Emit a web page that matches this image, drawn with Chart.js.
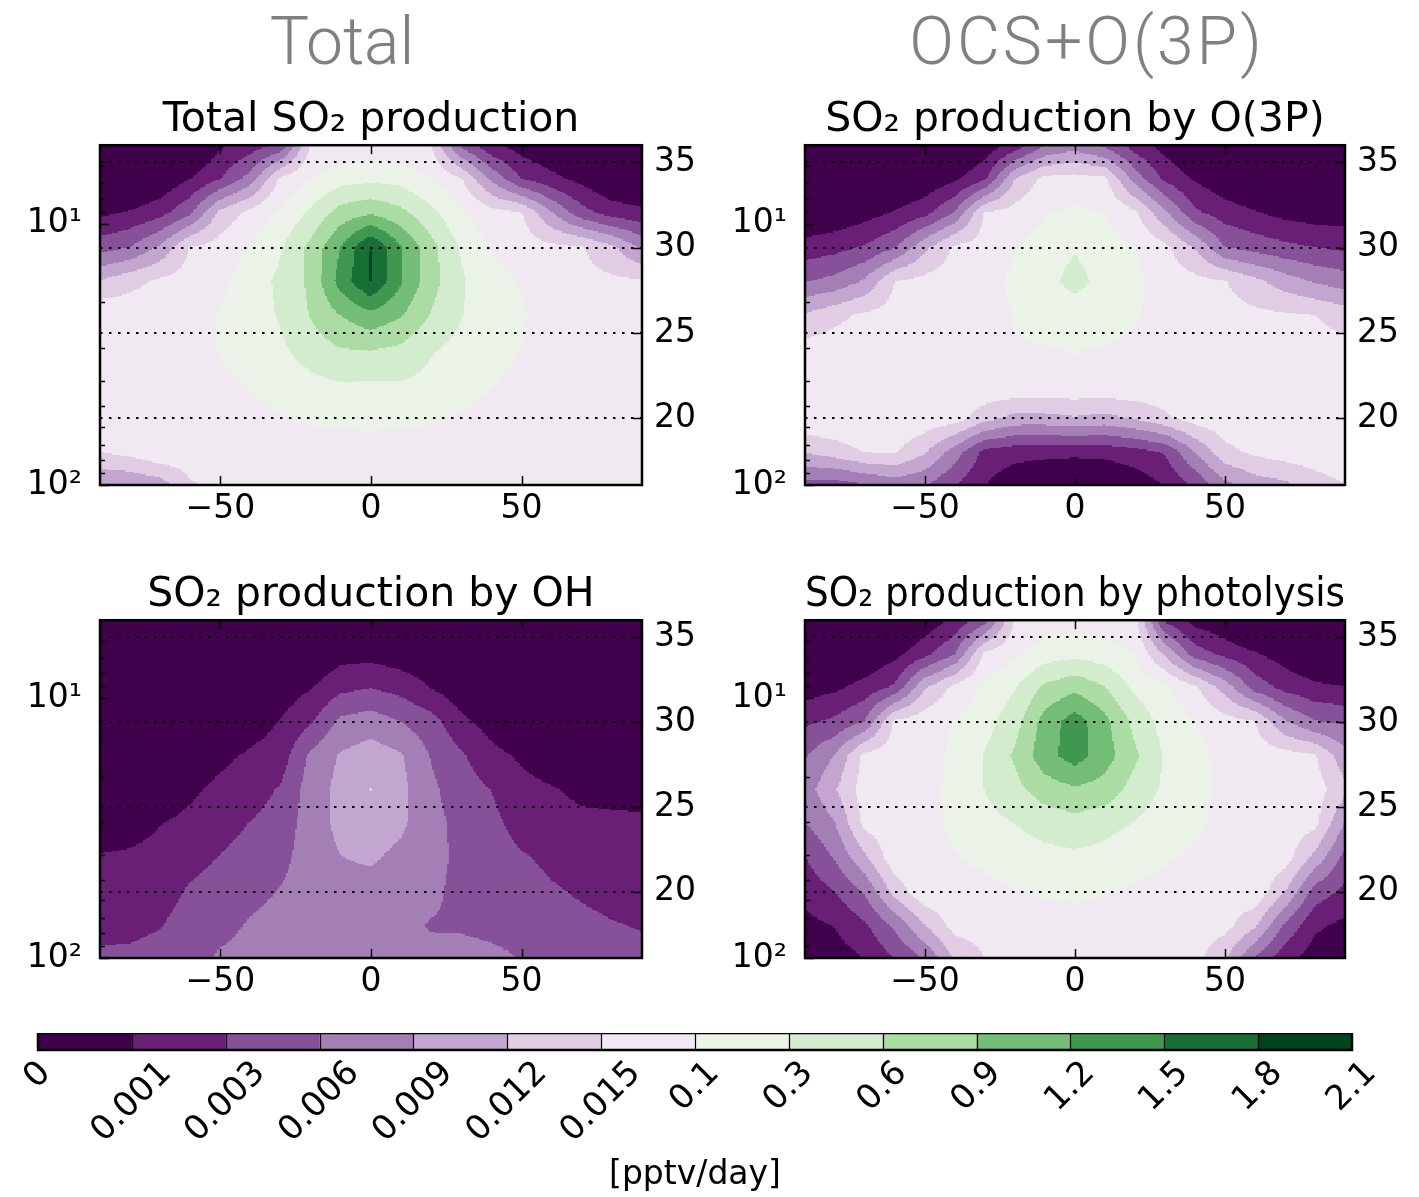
<!DOCTYPE html>
<html>
<head>
<meta charset="utf-8">
<script src="https://cdn.jsdelivr.net/npm/chart.js@4.4.1/dist/chart.umd.min.js"></script>
<style>
  html, body { margin: 0; padding: 0; background: #fff; }
  body { width: 1419px; height: 1197px; position: relative; overflow: hidden; }
  canvas { position: absolute; }
  .head { position: absolute; width: 600px; text-align: center; font-family: 'Roboto', 'Lato', sans-serif;
          font-weight: 300; font-size: 66px; line-height: 66px; color: #808080; }
</style>
</head>
<body>
<div class="head" style="left:42px; top:9px;">Total</div>
<div class="head" style="left:787px; top:9px; letter-spacing:3px;">OCS+O(3P)</div>
<canvas id="p1" width="712" height="449" style="left:0px; top:91px;"></canvas>
<canvas id="p2" width="710" height="449" style="left:705px; top:91px;"></canvas>
<canvas id="p3" width="712" height="447" style="left:0px; top:566px;"></canvas>
<canvas id="p4" width="710" height="447" style="left:705px; top:566px;"></canvas>
<canvas id="cbar" width="1419" height="164" style="left:0px; top:1033px;"></canvas>
<script>
// --- Axes / levels ---
const latitudes = [-90, -80, -70, -60, -50, -40, -30, -20, -10, 0, 10, 20, 30, 40, 50, 60, 70, 80, 90];
const altitudesKm = [36, 34, 32, 30, 28, 26, 24, 22, 20, 18, 16];   // grid rows, top to bottom
const latTicks = [-50, 0, 50];
const altTicks = [20, 25, 30, 35];
const pressureTicks = [6, 7, 8, 9, 10, 20, 30, 40, 50, 60, 70, 80, 90, 100];
const levelLabels = ['0', '0.001', '0.003', '0.006', '0.009', '0.012', '0.015', '0.1', '0.3', '0.6', '0.9', '1.2', '1.5', '1.8', '2.1'];
const bandColors = ['#40004b', '#6a1f76', '#87519a', '#a47fb5', '#c3a6d0', '#e0cce3', '#f0e9f1',
                    '#ebf3e9', '#d3ecce', '#aadca4', '#74bd77', '#3f9750', '#186f35', '#00441f'];

// field values, as position in the band scale (integer part = band)
const totalGrid = [
  [-1.5, -1.2, -0.9, -0.5, 0.82, 1.43, 2.17, 6.0, 6.2, 6.3, 6.2, 6.05, 2.75, 1.2, 0.5, 0.0, -0.4, -0.8, -1.0],
  [-0.6, -0.45, 0.1, 1.0, 1.95, 3.44, 6.2, 6.95, 7.6, 7.77, 7.65, 7.0, 6.1, 3.87, 2.0, 1.3, 0.7, -0.05, -0.4],
  [0.8, 1.1, 1.65, 2.82, 5.28, 6.35, 7.16, 8.18, 9.43, 9.87, 9.28, 8.3, 7.16, 6.38, 6.1, 4.1, 2.4, 1.6, 1.3],
  [2.55, 3.0, 4.17, 6.05, 6.39, 7.05, 7.9, 9.25, 11.0, 13.05, 11.1, 9.35, 7.9, 6.95, 6.5, 6.25, 6.1, 5.25, 3.85],
  [5.1, 5.7, 6.2, 6.4, 6.8, 7.5, 8.2, 9.2, 11.4, 13.05, 11.1, 9.4, 8.15, 7.3, 6.95, 6.5, 6.3, 6.2, 6.15],
  [6.8, 6.6, 6.55, 6.6, 7.05, 7.5, 8.1, 9.05, 10.0, 10.7, 10.1, 8.95, 8.05, 7.4, 7.1, 6.6, 6.5, 6.45, 6.4],
  [6.5, 6.5, 6.55, 6.7, 7.05, 7.4, 7.8, 8.5, 8.95, 9.03, 8.8, 8.1, 7.7, 7.4, 7.0, 6.6, 6.5, 6.45, 6.4],
  [6.5, 6.5, 6.55, 6.6, 6.8, 7.05, 7.4, 7.7, 7.95, 7.93, 7.95, 7.7, 7.4, 7.05, 6.7, 6.6, 6.5, 6.5, 6.45],
  [6.4, 6.45, 6.5, 6.55, 6.6, 6.75, 6.95, 7.1, 7.2, 7.24, 7.2, 7.1, 6.9, 6.7, 6.6, 6.55, 6.5, 6.5, 6.45],
  [6.0, 6.3, 6.8, 6.6, 6.5, 6.5, 6.55, 6.6, 6.6, 6.6, 6.6, 6.6, 6.55, 6.5, 6.5, 6.5, 6.5, 6.45, 6.45],
  [4.0, 4.0, 4.4, 5.85, 6.2, 6.4, 6.4, 6.4, 6.4, 6.4, 6.4, 6.4, 6.4, 6.4, 6.4, 6.4, 6.4, 6.4, 6.4]
];
const o3pGrid = [
  [-2, -2, -1.8, -1.4, -1.0, -0.4, 0.3, 1.3, 2.9, 3.5, 2.7, 1.5, 0.6, -0.2, -0.8, -1.2, -1.6, -1.8, -2],
  [-1.2, -1.1, -0.8, -0.4, 0.2, 0.8, 1.85, 5.0, 6.3, 6.4, 6.2, 3.6, 1.8, 0.9, 0.2, -0.3, -0.6, -0.8, -0.9],
  [0.0, 0.2, 0.6, 1.1, 1.7, 3.1, 6.1, 6.4, 6.95, 7.15, 7.0, 6.2, 4.25, 2.2, 1.55, 1.1, 0.7, 0.5, 0.45],
  [1.4, 1.65, 2.1, 2.9, 4.75, 6.2, 6.4, 6.95, 7.4, 7.9, 7.4, 7.0, 6.25, 4.95, 3.0, 2.6, 2.25, 2.0, 1.8],
  [2.95, 3.3, 4.15, 6.0, 6.3, 6.5, 6.6, 7.2, 7.6, 8.4, 7.6, 7.2, 6.6, 6.3, 6.05, 5.3, 4.5, 3.9, 3.5],
  [5.15, 5.75, 6.2, 6.4, 6.5, 6.55, 6.6, 7.05, 7.4, 7.3, 7.4, 7.1, 6.6, 6.5, 6.4, 6.25, 6.15, 6.02, 5.6],
  [6.4, 6.5, 6.5, 6.5, 6.5, 6.55, 6.6, 6.9, 6.95, 7.02, 6.95, 6.8, 6.6, 6.5, 6.5, 6.5, 6.45, 6.4, 6.3],
  [6.5, 6.5, 6.5, 6.5, 6.6, 6.7, 6.95, 6.9, 6.9, 6.9, 6.9, 6.9, 6.8, 6.6, 6.5, 6.5, 6.5, 6.5, 6.5],
  [6.9, 6.9, 6.9, 6.9, 6.7, 6.5, 5.4, 4.7, 4.7, 4.9, 4.7, 5.1, 5.8, 6.5, 6.7, 6.8, 6.8, 6.8, 6.8],
  [5.05, 5.5, 6.05, 6.1, 5.1, 3.5, 1.7, 1.4, 1.35, 1.3, 1.35, 1.6, 2.1, 4.0, 5.7, 6.2, 6.5, 6.6, 6.7],
  [2.5, 2.4, 2.8, 3.3, 3.0, 2.0, 1.0, 0.2, -0.3, -0.5, -0.3, 0.3, 1.0, 2.1, 3.6, 4.4, 4.7, 5.5, 5.95]
];
const ohGrid = [
  [-2, -2, -1.8, -1.6, -1.4, -1.1, -0.7, -0.5, -0.7, -0.6, -0.6, -0.8, -1.0, -1.2, -1.3, -1.5, -1.6, -1.7, -1.8],
  [-1.6, -1.6, -1.4, -1.3, -1.0, -0.7, -0.3, 0.0, 0.6, 0.65, 0.4, 0.2, -0.4, -0.8, -1.0, -1.2, -1.3, -1.4, -1.5],
  [-1.3, -1.2, -1.0, -0.9, -0.5, -0.2, 0.4, 0.95, 1.75, 1.98, 1.65, 0.98, 0.35, -0.2, -0.5, -0.8, -0.9, -1.0, -1.1],
  [-1.0, -0.9, -0.7, -0.4, -0.1, 0.5, 1.05, 1.85, 3.2, 3.5, 3.0, 2.4, 1.25, 0.6, 0.1, -0.3, -0.5, -0.6, -0.7],
  [-0.6, -0.5, -0.2, 0.1, 0.75, 1.15, 1.45, 3.2, 4.1, 4.5, 4.1, 2.95, 2.15, 1.3, 0.85, 0.4, 0.2, 0.1, 0.0],
  [-0.2, -0.1, 0.3, 0.8, 1.25, 1.55, 2.1, 3.45, 4.3, 5.03, 4.3, 3.2, 2.5, 1.99, 1.3, 1.1, 0.75, 0.7, 0.65],
  [0.4, 0.6, 0.97, 1.25, 1.6, 2.03, 2.4, 3.5, 4.25, 4.5, 4.2, 3.3, 2.75, 2.3, 1.6, 1.5, 1.25, 1.2, 1.18],
  [1.08, 1.15, 1.3, 1.7, 2.03, 2.4, 2.7, 3.5, 3.98, 4.15, 3.75, 3.3, 2.8, 2.5, 2.1, 1.8, 1.6, 1.5, 1.45],
  [1.45, 1.5, 1.6, 2.1, 2.35, 2.7, 3.05, 3.45, 3.6, 3.6, 3.35, 3.2, 2.75, 2.6, 2.4, 2.1, 1.9, 1.75, 1.7],
  [1.8, 1.82, 1.95, 2.4, 2.7, 3.1, 3.35, 3.4, 3.45, 3.45, 3.2, 2.95, 2.9, 2.8, 2.7, 2.4, 2.2, 2.05, 1.95],
  [2.15, 2.15, 2.3, 2.6, 3.15, 3.3, 3.5, 3.4, 3.4, 3.4, 3.1, 3.2, 3.3, 3.2, 2.98, 2.6, 2.4, 2.3, 2.2]
];
const photolysisGrid = [
  [-1.5, -1.3, -1.0, -0.6, 0.3, 1.2, 2.5, 6.0, 6.55, 6.6, 6.5, 6.35, 1.8, 0.6, 0.1, -0.8, -1.2, -1.5, -1.5],
  [-0.6, -0.4, 0.0, 0.7, 1.7, 2.95, 6.2, 6.85, 7.5, 7.7, 7.45, 6.95, 4.85, 2.5, 1.7, 1.1, 0.5, -0.2, -0.4],
  [0.55, 0.8, 1.4, 2.2, 4.9, 6.3, 7.15, 7.95, 9.2, 9.75, 9.05, 7.8, 7.2, 6.2, 4.6, 2.6, 1.7, 1.25, 1.05],
  [1.8, 2.2, 3.05, 6.2, 6.6, 7.05, 7.6, 8.6, 10.4, 11.5, 10.3, 8.7, 7.6, 7.0, 6.4, 6.05, 4.1, 3.05, 2.85],
  [2.9, 4.05, 6.3, 6.5, 6.6, 7.2, 8.05, 9.15, 10.6, 11.5, 10.45, 9.2, 7.9, 7.3, 6.7, 6.5, 6.4, 6.1, 4.35],
  [3.5, 4.9, 6.5, 6.6, 6.7, 7.25, 8.02, 8.7, 9.5, 9.85, 9.6, 8.6, 7.85, 7.35, 6.75, 6.6, 6.6, 6.5, 5.3],
  [2.95, 3.95, 6.3, 6.6, 6.7, 7.2, 7.7, 8.0, 8.4, 8.65, 8.35, 7.95, 7.5, 7.2, 6.7, 6.6, 6.6, 6.3, 3.95],
  [1.95, 3.1, 4.8, 6.7, 6.7, 6.95, 7.2, 7.5, 7.7, 7.8, 7.65, 7.35, 7.1, 6.85, 6.65, 6.6, 6.5, 4.7, 2.7],
  [1.35, 2.0, 3.15, 5.4, 6.8, 6.7, 6.75, 6.95, 7.1, 7.15, 7.05, 6.9, 6.75, 6.6, 6.55, 6.8, 5.05, 2.6, 1.75],
  [0.7, 1.05, 1.85, 3.2, 5.0, 6.4, 6.4, 6.6, 6.7, 6.7, 6.65, 6.6, 6.5, 6.45, 6.35, 5.2, 2.85, 1.2, 0.75],
  [0.2, 0.5, 1.0, 2.0, 3.0, 5.1, 6.0, 6.4, 6.5, 6.5, 6.5, 6.45, 6.4, 6.4, 5.1, 2.85, 1.3, 0.5, 0.2]
];

const FONT = "'DejaVu Sans', 'Noto Sans', sans-serif";

// --- helpers ---
function fieldValue(grid, lat, z) {
  const nx = latitudes.length - 1, ny = altitudesKm.length - 1;
  let fx = (lat - latitudes[0]) / (latitudes[nx] - latitudes[0]) * nx;
  let fy = (altitudesKm[0] - z) / (altitudesKm[0] - altitudesKm[ny]) * ny;
  fx = Math.min(Math.max(fx, 0), nx - 1e-6);
  fy = Math.min(Math.max(fy, 0), ny - 1e-6);
  const i = Math.floor(fx), j = Math.floor(fy), tx = fx - i, ty = fy - j;
  const a = grid[j][i], b = grid[j][i + 1], c = grid[j + 1][i], d = grid[j + 1][i + 1];
  return (a * (1 - tx) + b * tx) * (1 - ty) + (c * (1 - tx) + d * tx) * ty;
}
function bandOf(v) {
  return Math.min(bandColors.length - 1, Math.max(0, Math.floor(v)));
}

// contour-filled field, drawn through the x / y2 scales
const fieldPlugin = {
  id: 'field',
  beforeDraw(chart, args, opts) {
    const grid = opts.grid;
    if (!grid) return;
    const { ctx, chartArea: a } = chart;
    const xs = chart.scales.x, ys = chart.scales.y2;
    const latMin = latitudes[0], latMax = latitudes[latitudes.length - 1];
    const zMax = altitudesKm[0], zMin = altitudesKm[altitudesKm.length - 1];
    const nx = 360, nz = 260;
    ctx.save();
    ctx.beginPath();
    ctx.rect(a.left, a.top, a.width, a.height);
    ctx.clip();
    for (let k = 0; k < nz; k++) {
      const z0 = zMax - k * (zMax - zMin) / nz, z1 = zMax - (k + 1) * (zMax - zMin) / nz;
      const zc = (z0 + z1) / 2;
      const y0 = Math.floor(ys.getPixelForValue(z0)), y1 = Math.ceil(ys.getPixelForValue(z1));
      const latAt = m => latMin + m * (latMax - latMin) / nx;
      let start = 0, band = bandOf(fieldValue(grid, latAt(0.5), zc));
      for (let m = 1; m <= nx; m++) {
        const b = m < nx ? bandOf(fieldValue(grid, latAt(m + 0.5), zc)) : -1;
        if (b !== band) {
          const x0 = Math.floor(xs.getPixelForValue(latAt(start)));
          const x1 = Math.ceil(xs.getPixelForValue(latAt(m)));
          ctx.fillStyle = bandColors[band];
          ctx.fillRect(x0, y0, x1 - x0 + 1, y1 - y0 + 1);
          start = m; band = b;
        }
      }
    }
    ctx.restore();
  }
};

// dotted altitude lines, inward ticks and the frame
const framePlugin = {
  id: 'frame',
  afterDraw(chart) {
    const { ctx, chartArea: a, scales } = chart;
    const seg = (x0, y0, x1, y1) => { ctx.beginPath(); ctx.moveTo(x0, y0); ctx.lineTo(x1, y1); ctx.stroke(); };
    ctx.save();
    ctx.strokeStyle = '#000';
    ctx.lineWidth = 2;
    ctx.setLineDash([2.5, 6.5]);
    altTicks.forEach(z => {
      const y = Math.round(scales.y2.getPixelForValue(z));
      seg(a.left, y, a.right, y);
    });
    ctx.setLineDash([]);
    ctx.lineWidth = 1.5;
    latTicks.forEach(v => {
      const x = Math.round(scales.x.getPixelForValue(v)) + 0.5;
      seg(x, a.top, x, a.top + 9);
      seg(x, a.bottom, x, a.bottom - 9);
    });
    pressureTicks.forEach(p => {
      const y = Math.round(scales.y.getPixelForValue(p)) + 0.5;
      const len = (p === 10 || p === 100) ? 9 : 5;
      seg(a.left, y, a.left + len, y);
    });
    altTicks.forEach(z => {
      const y = Math.round(scales.y2.getPixelForValue(z)) + 0.5;
      seg(a.right, y, a.right - 9, y);
    });
    ctx.lineWidth = 2.5;
    ctx.strokeRect(a.left, a.top, a.width, a.height);
    ctx.restore();
  }
};

const tickFont = { family: FONT, size: 33 };
const fmtLat = v => (v < 0 ? '\u2212' + Math.abs(v) : String(v));
const fmtP = v => (v === 10 ? '10\u00b9' : v === 100 ? '10\u00b2' : '');

function makePanel(id, title, grid) {
  return new Chart(document.getElementById(id), {
    type: 'scatter',
    data: { datasets: [] },
    options: {
      responsive: false,
      animation: false,
      devicePixelRatio: 1,
      layout: { padding: 0 },
      plugins: {
        legend: { display: false },
        tooltip: { enabled: false },
        title: {
          display: true, text: title, fullSize: false, color: '#000',
          font: { family: FONT, size: 41, weight: 'normal' },
          padding: { top: 5, bottom: 0 }
        },
        field: { grid: grid }
      },
      scales: {
        x: {
          type: 'linear', position: 'bottom', min: -90, max: 90,
          afterBuildTicks: s => { s.ticks = latTicks.map(v => ({ value: v })); },
          afterFit: s => { s.height = 55; },
          ticks: { callback: fmtLat, font: tickFont, color: '#000', padding: 5, maxRotation: 0, autoSkip: false },
          grid: { display: false, drawTicks: false },
          border: { display: false }
        },
        y: {
          type: 'logarithmic', position: 'left', min: 5, max: 100, reverse: true,
          afterBuildTicks: s => { s.ticks = pressureTicks.map(v => ({ value: v })); },
          afterFit: s => { s.width = 100; },
          ticks: { callback: fmtP, font: tickFont, color: '#000', padding: 18, autoSkip: false },
          grid: { display: false, drawTicks: false },
          border: { display: false }
        },
        y2: {
          type: 'linear', position: 'right', min: 16.1, max: 36.0,
          afterBuildTicks: s => { s.ticks = altTicks.map(v => ({ value: v })); },
          afterFit: s => { s.width = 70; },
          ticks: { font: tickFont, color: '#000', padding: 12, autoSkip: false },
          grid: { display: false, drawTicks: false },
          border: { display: false }
        }
      }
    },
    plugins: [fieldPlugin, framePlugin]
  });
}

makePanel('p1', 'Total SO\u2082 production', totalGrid);
makePanel('p2', 'SO\u2082 production by O(3P)', o3pGrid);
makePanel('p3', 'SO\u2082 production by OH', ohGrid);
makePanel('p4', 'SO\u2082 production by photolysis', photolysisGrid);

// --- colour bar ---
// separators, frame and rotated level labels centred on each boundary
const cbarFrame = {
  id: 'cbarFrame',
  afterDraw(chart) {
    const { ctx, chartArea: a, scales } = chart;
    ctx.save();
    ctx.strokeStyle = '#000';
    ctx.lineWidth = 1.2;
    for (let i = 1; i < bandColors.length; i++) {
      const x = Math.round(scales.x.getPixelForValue(i)) + 0.5;
      ctx.beginPath(); ctx.moveTo(x, a.top); ctx.lineTo(x, a.bottom); ctx.stroke();
    }
    ctx.lineWidth = 2.5;
    ctx.strokeRect(a.left, a.top, a.width, a.height);
    ctx.fillStyle = '#000';
    ctx.font = '34px ' + FONT;
    ctx.textAlign = 'center';
    ctx.textBaseline = 'middle';
    levelLabels.forEach((t, i) => {
      const x = scales.x.getPixelForValue(i);
      const w = ctx.measureText(t).width, h = 25;
      const half = (w + h) * Math.SQRT1_2 / 2;
      ctx.save();
      ctx.translate(x, a.bottom + 9 + half);
      ctx.rotate(-Math.PI / 4);
      ctx.fillText(t, 0, 0);
      ctx.restore();
    });
    ctx.restore();
  }
};

new Chart(document.getElementById('cbar'), {
  type: 'bar',
  data: {
    labels: ['cb'],
    datasets: [{
      data: bandColors.map((c, i) => ({ x: [i, i + 1], y: 'cb' })),
      backgroundColor: bandColors,
      borderWidth: 0,
      barPercentage: 1,
      categoryPercentage: 1
    }]
  },
  options: {
    indexAxis: 'y',
    responsive: false,
    animation: false,
    devicePixelRatio: 1,
    layout: { padding: { left: 38, right: 67, top: 0, bottom: 0 } },
    plugins: { legend: { display: false }, tooltip: { enabled: false } },
    scales: {
      x: {
        type: 'linear', min: 0, max: bandColors.length,
        afterBuildTicks: s => { s.ticks = levelLabels.map((_, i) => ({ value: i })); },
        afterFit: s => { s.height = 147; },
        ticks: { display: false },
        grid: { display: false, drawTicks: false },
        border: { display: false },
        title: { display: true, text: '[pptv/day]', color: '#000', font: { family: FONT, size: 33 }, padding: { top: 0, bottom: 2 } }
      },
      y: { display: false }
    }
  },
  plugins: [cbarFrame]
});
</script>
</body>
</html>
